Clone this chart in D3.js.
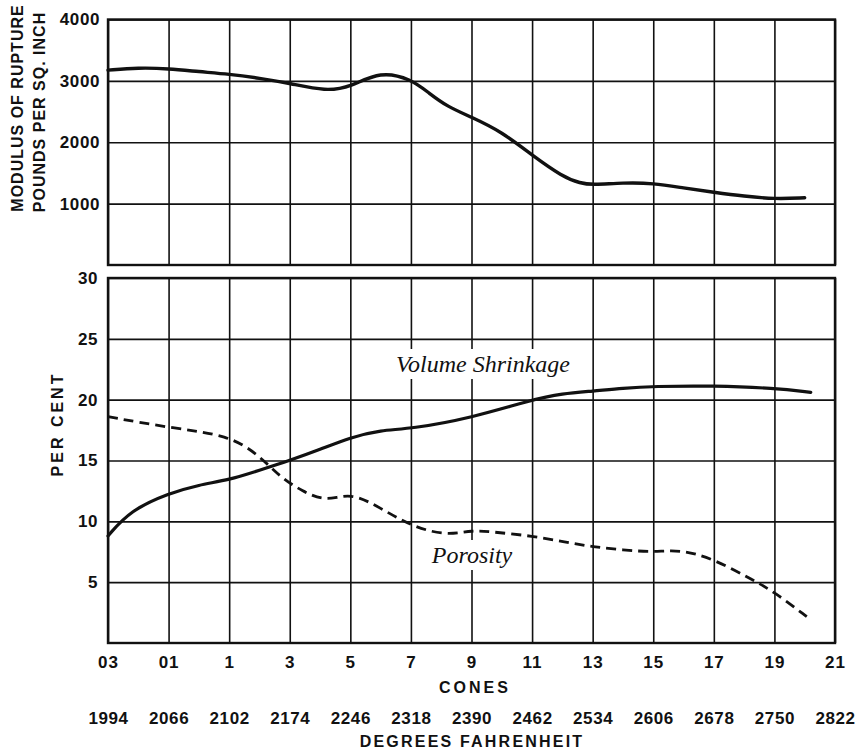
<!DOCTYPE html>
<html><head><meta charset="utf-8">
<script src="https://cdn.jsdelivr.net/npm/d3@7"></script>
<style>
body{margin:0;background:#fff;}
svg{display:block;}
.lab{font-family:"Liberation Sans",Arial,sans-serif;font-weight:bold;fill:#111;}
.ital{font-family:"Liberation Serif","Times New Roman",serif;font-style:italic;fill:#111;}
</style></head>
<body>
<svg id="c" width="866" height="750"></svg>
<script>
// ---- data ----
const cones = ["03","01","1","3","5","7","9","11","13","15","17","19","21"];
const fahrenheit = ["1994","2066","2102","2174","2246","2318","2390","2462","2534","2606","2678","2750","2822"];
const modulusTicks = [1000,2000,3000,4000];
const percentTicks = [5,10,15,20,25,30];
// positions in cone-index units (0 = cone 03 ... 12 = cone 21)
const modulusPos = [0,0.5,1,1.5,2,2.5,3,3.6,4,4.5,5,5.3,5.6,6,6.5,7,7.5,7.8,8,8.5,9,9.5,10,10.5,11,11.5];
const modulusVal = [3175,3215,3200,3150,3110,3045,2960,2830,2900,3160,3030,2800,2580,2410,2170,1790,1440,1330,1305,1340,1335,1255,1185,1120,1075,1095];
const shrinkPos = [0,0.37,1,1.5,2,2.5,3,3.5,4,4.5,5,6,7,7.5,8,8.5,9,10,11,11.6];
const shrinkVal = [8.8,10.9,12.3,13.0,13.4,14.2,15.0,15.9,16.9,17.5,17.6,18.5,20.0,20.5,20.7,20.95,21.1,21.15,20.95,20.6];
const porosityPos = [0,1,2,2.5,2.85,3.2,3.6,4,4.5,5,5.6,6,6.4,7,7.55,8,8.5,9,9.45,10,10.6,11,11.55];
const porosityVal = [18.6,17.7,17.1,15.4,13.6,12.5,11.6,12.4,11.1,9.6,8.8,9.3,9.1,8.8,8.3,7.9,7.65,7.45,7.7,6.9,5.3,4.2,2.1];

// ---- layout ----
const svg = d3.select("#c");
const X0 = 108, X1 = 835;
const top1 = 19.5, bot1 = 265;
const top2 = 278, bot2 = 643;

const x = d3.scaleLinear().domain([0, cones.length - 1]).range([X0, X1]);
const yM = d3.scaleLinear().domain([0, 4000]).range([bot1, top1]);
const yP = d3.scaleLinear().domain([0, 30]).range([bot2, top2]);

function styleGrid(g){
  g.select(".domain").remove();
  g.selectAll(".tick line").attr("stroke","#111").attr("stroke-width",1.6);
}
function styleText(g, size, ls){
  g.selectAll(".tick text").attr("class","lab").attr("fill","#111")
    .style("font-size",size+"px").style("letter-spacing",ls+"px");
}

// ---- top panel grid ----
const gTopV = svg.append("g").attr("transform",`translate(0,${bot1})`)
  .call(d3.axisBottom(x).tickValues(d3.range(cones.length)).tickSize(-(bot1-top1)).tickFormat(""));
styleGrid(gTopV);
const gTopH = svg.append("g").attr("transform",`translate(${X0},0)`)
  .call(d3.axisLeft(yM).tickValues(modulusTicks).tickSize(-(X1-X0)).tickPadding(8).tickFormat(d3.format("d")));
styleGrid(gTopH);
styleText(gTopH, 17, 0.6);

// ---- bottom panel grid ----
const gBotV = svg.append("g").attr("transform",`translate(0,${bot2})`)
  .call(d3.axisBottom(x).tickValues(d3.range(cones.length)).tickSize(-(bot2-top2)).tickPadding(13)
    .tickFormat(i => cones[i]));
styleGrid(gBotV);
styleText(gBotV, 17, 1);

const gBotH = svg.append("g").attr("transform",`translate(${X0},0)`)
  .call(d3.axisLeft(yP).tickValues(percentTicks).tickSize(-(X1-X0)).tickPadding(10).tickFormat(d3.format("d")));
styleGrid(gBotH);
styleText(gBotH, 17, 0.6);

// Fahrenheit row
const gF = svg.append("g").attr("transform",`translate(0,${bot2})`)
  .call(d3.axisBottom(x).tickValues(d3.range(fahrenheit.length)).tickSize(0).tickPadding(69)
    .tickFormat(i => fahrenheit[i]));
gF.select(".domain").remove();
styleText(gF, 17, 0.6);

// frames
[[top1,bot1],[top2,bot2]].forEach(([t,b])=>{
  svg.append("rect").attr("x",X0).attr("y",t).attr("width",X1-X0).attr("height",b-t)
    .attr("fill","none").attr("stroke","#111").attr("stroke-width",2.4);
});

// ---- labels with white backgrounds ----
function label(txt, cx, by, size){
  const t = svg.append("text").attr("class","ital").attr("x",cx).attr("y",by)
    .attr("text-anchor","middle").style("font-size",size+"px").text(txt);
  const bb = t.node().getBBox();
  svg.insert("rect", () => t.node()).attr("x",bb.x-4).attr("y",bb.y-2)
    .attr("width",bb.width+8).attr("height",bb.height+4).attr("fill","#fff");
}
label("Volume Shrinkage", 483, 372, 24);
label("Porosity", 472, 563, 24);

// ---- curves ----
const lineM = d3.line().x(d=>x(d[0])).y(d=>yM(d[1])).curve(d3.curveBasis);
const lineP = d3.line().x(d=>x(d[0])).y(d=>yP(d[1])).curve(d3.curveBasis);

svg.append("path").datum(d3.zip(modulusPos, modulusVal)).attr("d",lineM)
  .attr("fill","none").attr("stroke","#111").attr("stroke-width",3.4).attr("stroke-linecap","round");
svg.append("path").datum(d3.zip(shrinkPos, shrinkVal)).attr("d",lineP)
  .attr("fill","none").attr("stroke","#111").attr("stroke-width",3.2).attr("stroke-linecap","round");
svg.append("path").datum(d3.zip(porosityPos, porosityVal)).attr("d",lineP)
  .attr("fill","none").attr("stroke","#111").attr("stroke-width",2.8).attr("stroke-dasharray","10,6");

// ---- axis titles ----
svg.append("text").attr("class","lab").attr("x",475).attr("y",693).attr("text-anchor","middle")
  .style("font-size","16px").style("letter-spacing","3px").text("CONES");
svg.append("text").attr("class","lab").attr("x",472).attr("y",747).attr("text-anchor","middle")
  .style("font-size","16px").style("letter-spacing","2.2px").text("DEGREES FAHRENHEIT");
svg.append("text").attr("class","lab").attr("transform","translate(23,108) rotate(-90)")
  .attr("text-anchor","middle").style("font-size","16px").style("letter-spacing","1px").text("MODULUS OF RUPTURE");
svg.append("text").attr("class","lab").attr("transform","translate(45,112) rotate(-90)")
  .attr("text-anchor","middle").style("font-size","16px").style("letter-spacing","1px").text("POUNDS PER SQ. INCH");
svg.append("text").attr("class","lab").attr("transform","translate(63,424) rotate(-90)")
  .attr("text-anchor","middle").style("font-size","16px").style("letter-spacing","3px").text("PER CENT");
</script>
</body></html>
